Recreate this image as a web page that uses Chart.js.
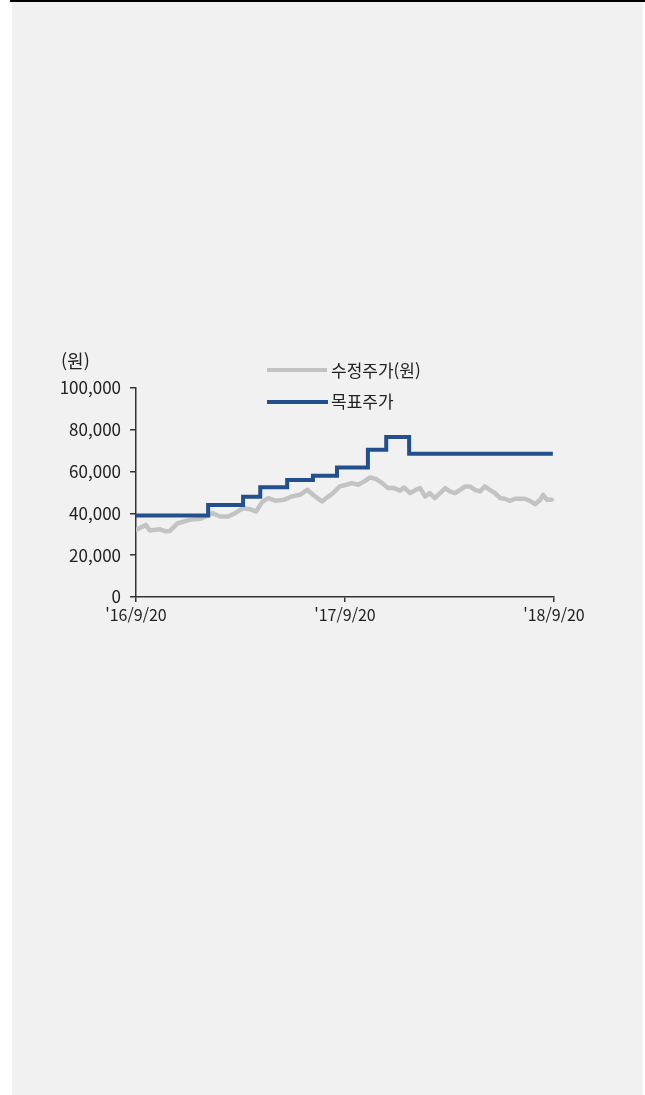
<!DOCTYPE html>
<html lang="ko">
<head>
<meta charset="utf-8">
<script src="https://cdn.jsdelivr.net/npm/chart.js@4/dist/chart.umd.min.js"></script>
<style>
  html, body { margin: 0; padding: 0; background: #ffffff; width: 645px; height: 1095px; overflow: hidden; }
  body { position: relative; font-family: "Noto Sans CJK KR", "Noto Sans", sans-serif; color: #222; }
  #panel { position: absolute; left: 12px; top: 0; width: 631px; height: 1095px; background: #f1f1f1; }
  #topline { position: absolute; left: 10px; top: 0; width: 635px; height: 2px; background: #000; }
  #wrap { position: absolute; left: 0; top: 340px; width: 645px; height: 300px; }
  .txt { position: absolute; white-space: nowrap; line-height: 20px; color: #222; }
  .sw { position: absolute; }
</style>
</head>
<body>
<div id="panel"></div>
<div id="topline"></div>
<div id="wrap"><canvas id="c" width="645" height="300"></canvas></div>
<div class="txt" id="unit" style="left:61px; top:350px; font-size:18px;">(원)</div>
<div class="sw" style="left:267px; top:368px; width:60px; height:4px; background:#c3c3c3;"></div>
<div class="txt" id="lg1" style="left:331px; top:360px; font-size:17px;"></div>
<div class="sw" style="left:267px; top:400px; width:61px; height:4px; background:#234f8c;"></div>
<div class="txt" id="lg2" style="left:331px; top:391px; font-size:17px;"></div>
<script>
// ---- data ----
const seriesNames = ["수정주가(원)", "목표주가"];
const xTickDays = [0, 365, 730];
const xTickLabels = ["'16/9/20", "'17/9/20", "'18/9/20"];
const yTickValues = [0, 20000, 40000, 60000, 80000, 100000];

const stockDays = [0,17,24,42,52,59,73,94,112,122,133,147,161,173,187,199,210,220,231,243,258,272,286,299,309,321,325,332,344,356,367,377,388,398,409,419,430,440,451,461,468,479,489,496,505,513,522,531,540,548,557,566,575,583,592,601,609,618,627,636,644,653,662,671,679,688,697,706,711,718,726];
const stockPrices = [32100,34500,31800,32400,31400,31600,35300,36900,37400,38500,40100,38500,38500,40100,42500,42000,40900,45400,47300,46100,46500,48100,48900,51300,48900,46500,45700,47300,49700,52900,53700,54500,53700,55200,57200,56500,54500,52100,52100,50800,52400,49700,51300,52100,48100,49700,47300,49700,52100,50500,49700,51300,52900,52900,51300,50500,52900,51300,49700,47300,47000,46000,47000,47000,47000,46000,44400,46500,48900,46500,46500];

const targetDays = [0,126,187,217,264,309,351,405,437,477,728];
const targetPrices = [39000,44000,48000,52500,56000,58000,62000,70500,76500,68500,68500];

document.getElementById('lg1').textContent = seriesNames[0];
document.getElementById('lg2').textContent = seriesNames[1];

const FONT = '"Noto Sans CJK KR", "Noto Sans", sans-serif';
const AXIS = '#333333';

new Chart(document.getElementById('c'), {
  type: 'line',
  data: {
    datasets: [
      {
        label: seriesNames[0],
        data: stockDays.map((d, i) => ({ x: d, y: stockPrices[i] })),
        borderColor: '#c3c3c3',
        borderWidth: 4.5,
        pointRadius: 0,
        tension: 0,
        borderJoinStyle: 'round',
        borderCapStyle: 'round',
        fill: false,
        order: 2
      },
      {
        label: seriesNames[1],
        data: targetDays.map((d, i) => ({ x: d, y: targetPrices[i] })),
        borderColor: '#234f8c',
        borderWidth: 4,
        pointRadius: 0,
        stepped: true,
        fill: false,
        order: 1
      }
    ]
  },
  options: {
    responsive: false,
    animation: false,
    events: [],
    layout: { padding: { top: 48, right: 91, bottom: 0, left: 0 } },
    plugins: { legend: { display: false }, tooltip: { enabled: false }, title: { display: false } },
    scales: {
      x: {
        type: 'linear',
        min: 0,
        max: 730,
        afterBuildTicks: s => { s.ticks = xTickDays.map(v => ({ value: v })); },
        afterFit: s => { s.height = 43; },
        ticks: {
          autoSkip: false,
          maxRotation: 0,
          padding: 3,
          color: '#222',
          font: { family: FONT, size: 16 },
          callback: v => { const i = xTickDays.indexOf(v); return i >= 0 ? xTickLabels[i] : ''; }
        },
        grid: { display: true, drawOnChartArea: false, drawTicks: true, tickLength: 5, color: AXIS, lineWidth: 1.5 },
        border: { display: true, color: AXIS, width: 1.5 }
      },
      y: {
        min: 0,
        max: 100000,
        afterBuildTicks: s => { s.ticks = yTickValues.map(v => ({ value: v })); },
        afterFit: s => { s.width = 136; },
        ticks: {
          padding: 9,
          color: '#222',
          font: { family: FONT, size: 17 },
          callback: v => Number(v).toLocaleString('en-US')
        },
        grid: { display: true, drawOnChartArea: false, drawTicks: true, tickLength: 6, color: AXIS, lineWidth: 1.5 },
        border: { display: true, color: AXIS, width: 1.5 }
      }
    }
  }
});
</script>
</body>
</html>
